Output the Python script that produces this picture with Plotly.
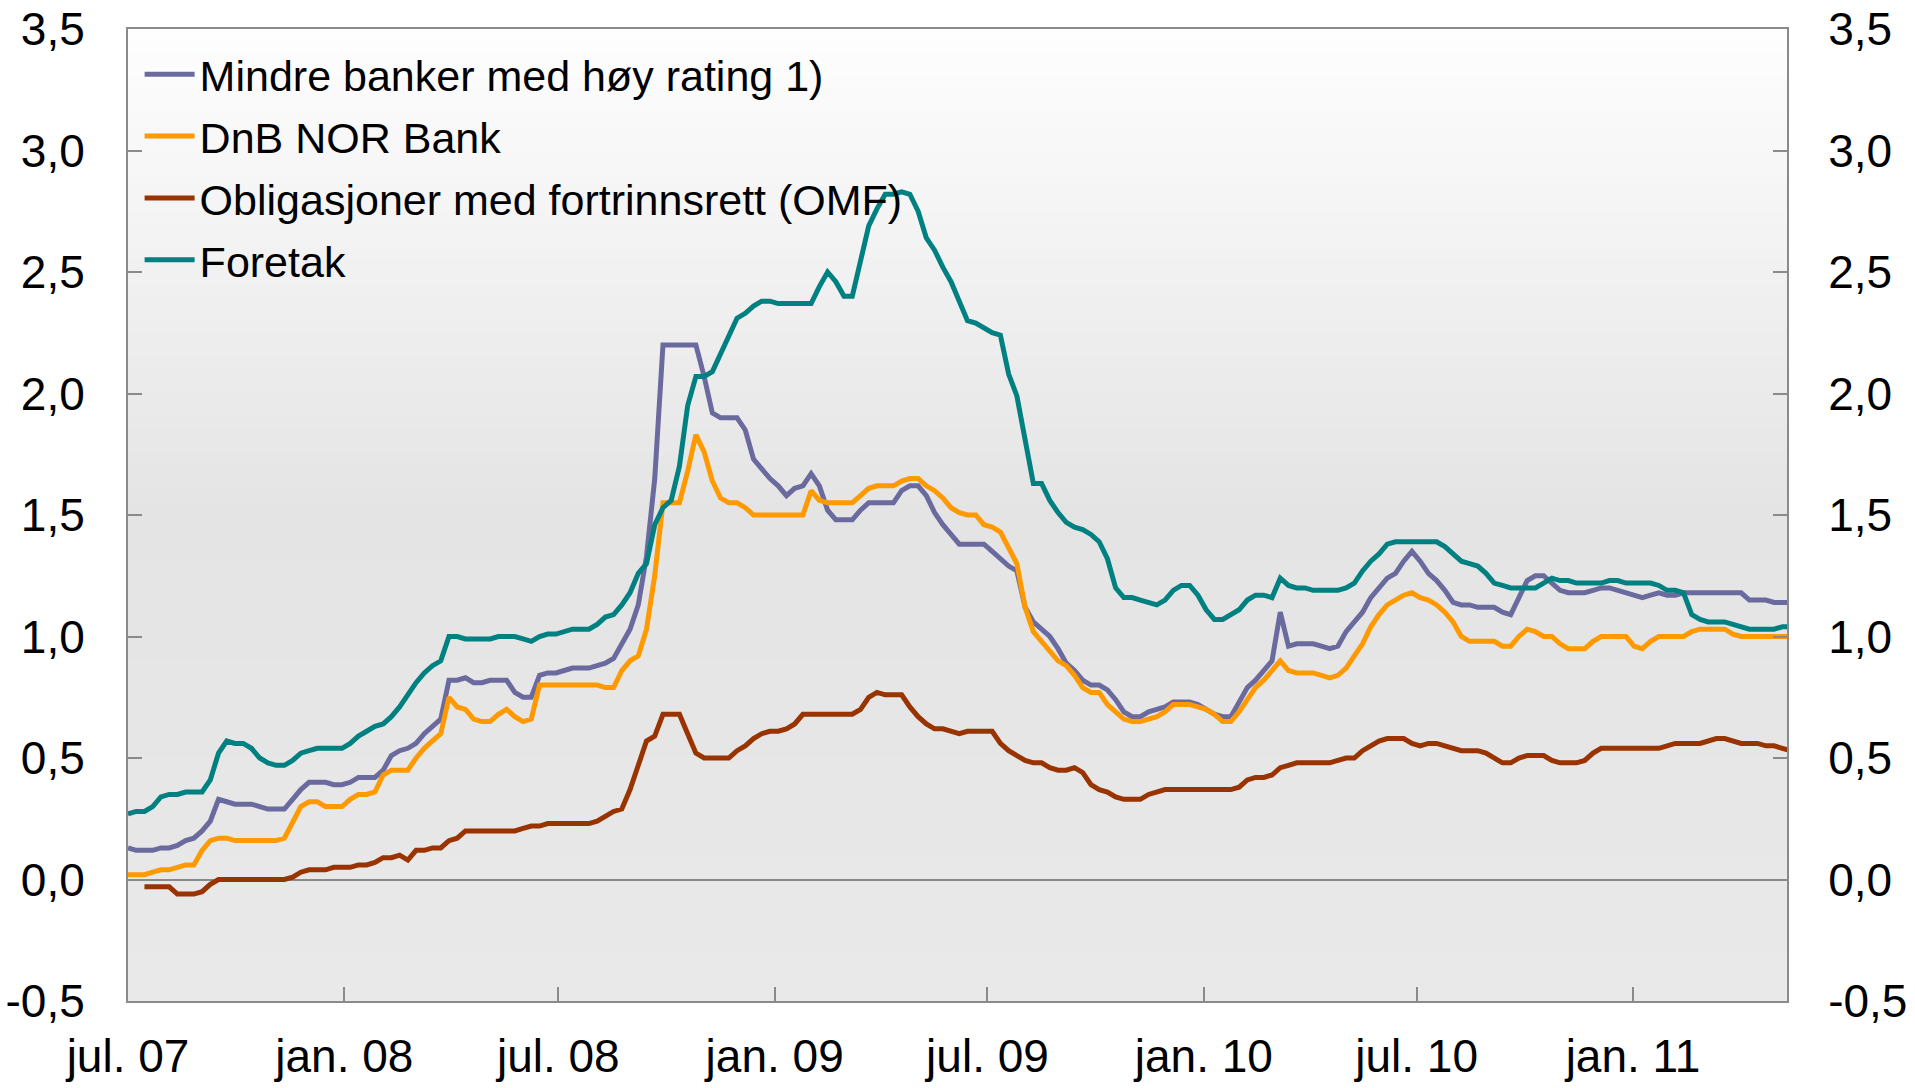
import plotly.graph_objects as go
import pandas as pd

# Weekly observation dates
dates = pd.date_range("2007-07-01", periods=203, freq="7D")

names = [
    "Mindre banker med høy rating 1)",
    "DnB NOR Bank",
    "Obligasjoner med fortrinnsrett (OMF)",
    "Foretak",
]

mindre_banker = [
    0.13, 0.12, 0.12, 0.12, 0.13, 0.13, 0.14, 0.16, 0.17, 0.20,
    0.24, 0.33, 0.32, 0.31, 0.31, 0.31, 0.30, 0.29, 0.29, 0.29,
    0.33, 0.37, 0.40, 0.40, 0.40, 0.39, 0.39, 0.40, 0.42, 0.42,
    0.42, 0.45, 0.51, 0.53, 0.54, 0.56, 0.60, 0.63, 0.66, 0.82,
    0.82, 0.83, 0.81, 0.81, 0.82, 0.82, 0.82, 0.77, 0.75, 0.75,
    0.84, 0.85, 0.85, 0.86, 0.87, 0.87, 0.87, 0.88, 0.89, 0.91,
    0.97, 1.03, 1.13, 1.33, 1.65, 2.20, 2.20, 2.20, 2.20, 2.20,
    2.07, 1.92, 1.90, 1.90, 1.90, 1.85, 1.73, 1.69, 1.65, 1.62,
    1.58, 1.61, 1.62, 1.67, 1.62, 1.52, 1.48, 1.48, 1.48, 1.52,
    1.55, 1.55, 1.55, 1.55, 1.60, 1.62, 1.62, 1.58, 1.51, 1.46,
    1.42, 1.38, 1.38, 1.38, 1.38, 1.35, 1.32, 1.29, 1.27, 1.12,
    1.06, 1.03, 1.00, 0.95, 0.89, 0.86, 0.82, 0.80, 0.80, 0.78,
    0.74, 0.69, 0.67, 0.67, 0.69, 0.70, 0.71, 0.73, 0.73, 0.73,
    0.72, 0.70, 0.68, 0.67, 0.67, 0.73, 0.79, 0.82, 0.86, 0.90,
    1.10, 0.96, 0.97, 0.97, 0.97, 0.96, 0.95, 0.96, 1.02, 1.06,
    1.10, 1.16, 1.20, 1.24, 1.26, 1.31, 1.35, 1.31, 1.26, 1.23,
    1.19, 1.14, 1.13, 1.13, 1.12, 1.12, 1.12, 1.10, 1.09, 1.16,
    1.23, 1.25, 1.25, 1.22, 1.19, 1.18, 1.18, 1.18, 1.19, 1.20,
    1.20, 1.19, 1.18, 1.17, 1.16, 1.17, 1.18, 1.17, 1.17, 1.18,
    1.18, 1.18, 1.18, 1.18, 1.18, 1.18, 1.18, 1.15, 1.15, 1.15,
    1.14, 1.14, 1.14,
]

dnb_nor = [
    0.02, 0.02, 0.02, 0.03, 0.04, 0.04, 0.05, 0.06, 0.06, 0.12,
    0.16, 0.17, 0.17, 0.16, 0.16, 0.16, 0.16, 0.16, 0.16, 0.17,
    0.24, 0.30, 0.32, 0.32, 0.30, 0.30, 0.30, 0.33, 0.35, 0.35,
    0.36, 0.43, 0.45, 0.45, 0.45, 0.50, 0.54, 0.57, 0.60, 0.75,
    0.71, 0.70, 0.66, 0.65, 0.65, 0.68, 0.70, 0.67, 0.65, 0.66,
    0.80, 0.80, 0.80, 0.80, 0.80, 0.80, 0.80, 0.80, 0.79, 0.79,
    0.86, 0.90, 0.92, 1.03, 1.25, 1.55, 1.55, 1.55, 1.68, 1.83,
    1.76, 1.64, 1.57, 1.55, 1.55, 1.53, 1.50, 1.50, 1.50, 1.50,
    1.50, 1.50, 1.50, 1.60, 1.56, 1.55, 1.55, 1.55, 1.55, 1.58,
    1.61, 1.62, 1.62, 1.62, 1.64, 1.65, 1.65, 1.62, 1.60, 1.57,
    1.53, 1.51, 1.50, 1.50, 1.46, 1.45, 1.43, 1.37, 1.30, 1.12,
    1.02, 0.98, 0.94, 0.90, 0.88, 0.84, 0.79, 0.77, 0.77, 0.72,
    0.69, 0.66, 0.65, 0.65, 0.66, 0.67, 0.69, 0.72, 0.72, 0.72,
    0.71, 0.70, 0.68, 0.65, 0.65, 0.69, 0.74, 0.79, 0.82, 0.86,
    0.90, 0.86, 0.85, 0.85, 0.85, 0.84, 0.83, 0.84, 0.87, 0.92,
    0.97, 1.04, 1.09, 1.13, 1.15, 1.17, 1.18, 1.16, 1.15, 1.13,
    1.10, 1.06, 1.00, 0.98, 0.98, 0.98, 0.98, 0.96, 0.96, 1.00,
    1.03, 1.02, 1.00, 1.00, 0.97, 0.95, 0.95, 0.95, 0.98, 1.00,
    1.00, 1.00, 1.00, 0.96, 0.95, 0.98, 1.00, 1.00, 1.00, 1.00,
    1.02, 1.03, 1.03, 1.03, 1.03, 1.01, 1.00, 1.00, 1.00, 1.00,
    1.00, 1.00, 1.00,
]

omf = [
    None, None, -0.03, -0.03, -0.03, -0.03, -0.06, -0.06, -0.06, -0.05,
    -0.02, 0.00, 0.00, 0.00, 0.00, 0.00, 0.00, 0.00, 0.00, 0.00,
    0.01, 0.03, 0.04, 0.04, 0.04, 0.05, 0.05, 0.05, 0.06, 0.06,
    0.07, 0.09, 0.09, 0.10, 0.08, 0.12, 0.12, 0.13, 0.13, 0.16,
    0.17, 0.20, 0.20, 0.20, 0.20, 0.20, 0.20, 0.20, 0.21, 0.22,
    0.22, 0.23, 0.23, 0.23, 0.23, 0.23, 0.23, 0.24, 0.26, 0.28,
    0.29, 0.37, 0.47, 0.57, 0.59, 0.68, 0.68, 0.68, 0.60, 0.52,
    0.50, 0.50, 0.50, 0.50, 0.53, 0.55, 0.58, 0.60, 0.61, 0.61,
    0.62, 0.64, 0.68, 0.68, 0.68, 0.68, 0.68, 0.68, 0.68, 0.70,
    0.75, 0.77, 0.76, 0.76, 0.76, 0.71, 0.67, 0.64, 0.62, 0.62,
    0.61, 0.60, 0.61, 0.61, 0.61, 0.61, 0.56, 0.53, 0.51, 0.49,
    0.48, 0.48, 0.46, 0.45, 0.45, 0.46, 0.44, 0.39, 0.37, 0.36,
    0.34, 0.33, 0.33, 0.33, 0.35, 0.36, 0.37, 0.37, 0.37, 0.37,
    0.37, 0.37, 0.37, 0.37, 0.37, 0.38, 0.41, 0.42, 0.42, 0.43,
    0.46, 0.47, 0.48, 0.48, 0.48, 0.48, 0.48, 0.49, 0.50, 0.50,
    0.53, 0.55, 0.57, 0.58, 0.58, 0.58, 0.56, 0.55, 0.56, 0.56,
    0.55, 0.54, 0.53, 0.53, 0.53, 0.52, 0.50, 0.48, 0.48, 0.50,
    0.51, 0.51, 0.51, 0.49, 0.48, 0.48, 0.48, 0.49, 0.52, 0.54,
    0.54, 0.54, 0.54, 0.54, 0.54, 0.54, 0.54, 0.55, 0.56, 0.56,
    0.56, 0.56, 0.57, 0.58, 0.58, 0.57, 0.56, 0.56, 0.56, 0.55,
    0.55, 0.54, 0.53,
]

foretak = [
    0.27, 0.28, 0.28, 0.30, 0.34, 0.35, 0.35, 0.36, 0.36, 0.36,
    0.41, 0.52, 0.57, 0.56, 0.56, 0.54, 0.50, 0.48, 0.47, 0.47,
    0.49, 0.52, 0.53, 0.54, 0.54, 0.54, 0.54, 0.56, 0.59, 0.61,
    0.63, 0.64, 0.67, 0.71, 0.76, 0.81, 0.85, 0.88, 0.90, 1.00,
    1.00, 0.99, 0.99, 0.99, 0.99, 1.00, 1.00, 1.00, 0.99, 0.98,
    1.00, 1.01, 1.01, 1.02, 1.03, 1.03, 1.03, 1.05, 1.08, 1.09,
    1.13, 1.18, 1.26, 1.30, 1.46, 1.53, 1.56, 1.70, 1.95, 2.07,
    2.07, 2.09, 2.16, 2.24, 2.31, 2.33, 2.36, 2.38, 2.38, 2.37,
    2.37, 2.37, 2.37, 2.37, 2.44, 2.50, 2.46, 2.40, 2.40, 2.55,
    2.69, 2.76, 2.82, 2.82, 2.83, 2.82, 2.75, 2.64, 2.59, 2.52,
    2.46, 2.38, 2.30, 2.29, 2.27, 2.25, 2.24, 2.08, 1.99, 1.80,
    1.63, 1.63, 1.56, 1.51, 1.47, 1.45, 1.44, 1.42, 1.39, 1.32,
    1.20, 1.16, 1.16, 1.15, 1.14, 1.13, 1.15, 1.19, 1.21, 1.21,
    1.17, 1.11, 1.07, 1.07, 1.09, 1.11, 1.15, 1.17, 1.17, 1.16,
    1.24, 1.21, 1.20, 1.20, 1.19, 1.19, 1.19, 1.19, 1.20, 1.22,
    1.27, 1.31, 1.34, 1.38, 1.39, 1.39, 1.39, 1.39, 1.39, 1.39,
    1.37, 1.34, 1.31, 1.30, 1.29, 1.26, 1.22, 1.21, 1.20, 1.20,
    1.20, 1.20, 1.22, 1.24, 1.23, 1.23, 1.22, 1.22, 1.22, 1.22,
    1.23, 1.23, 1.22, 1.22, 1.22, 1.22, 1.21, 1.19, 1.19, 1.18,
    1.09, 1.07, 1.06, 1.06, 1.06, 1.05, 1.04, 1.03, 1.03, 1.03,
    1.03, 1.04, 1.04,
]

colors = ["#6A6A9F", "#FF9900", "#993300", "#008080"]

x_tick_dates = ["2007-07-01", "2008-01-01", "2008-07-01", "2009-01-01",
                "2009-07-01", "2010-01-01", "2010-07-01", "2011-01-01"]
x_tick_labels = ["jul. 07", "jan. 08", "jul. 08", "jan. 09",
                 "jul. 09", "jan. 10", "jul. 10", "jan. 11"]
y_tick_vals = [-0.5, 0.0, 0.5, 1.0, 1.5, 2.0, 2.5, 3.0, 3.5]
y_tick_labels = ["-0,5", "0,0", "0,5", "1,0", "1,5", "2,0", "2,5", "3,0", "3,5"]

FONT = "Liberation Sans, Arial, sans-serif"
AX = "#8A8A8A"

fig = go.Figure()
for i, (name, vals, col) in enumerate(zip(names, [mindre_banker, dnb_nor, omf, foretak], colors)):
    fig.add_trace(go.Scatter(x=dates, y=vals, name=name, mode="lines",
                             legendgroup="g%d" % i,
                             line=dict(color=col, width=5)))
fig.add_trace(go.Scatter(x=[], y=[], yaxis="y2", showlegend=False, hoverinfo="skip"))

# vertical gradient background of the plot area
shapes = []
N = 80
def mix(c1, c2, t):
    return tuple(round(a + (b - a) * t) for a, b in zip(c1, c2))
top_c, mid_c, bot_c = (254, 254, 254), (228, 228, 228), (233, 233, 233)
for i in range(N):
    t = (i + 0.5) / N  # from top
    if t < 0.5:
        c = mix(top_c, mid_c, t / 0.5)
    else:
        c = mix(mid_c, bot_c, (t - 0.5) / 0.5)
    y1 = 1 - i / N
    y0 = 1 - (i + 1) / N
    shapes.append(dict(type="rect", xref="paper", yref="paper", x0=0, x1=1,
                       y0=y0, y1=y1 + 0.001, layer="below", line=dict(width=0),
                       fillcolor="rgb(%d,%d,%d)" % c))

axis_common = dict(ticks="inside", ticklen=14, tickwidth=2, tickcolor=AX,
                   showline=True, linecolor=AX, linewidth=2, showgrid=False,
                   automargin=False,
                   tickfont=dict(family=FONT, size=46, color="black"))

fig.update_layout(
    width=1915, height=1088,
    margin=dict(l=128, r=128, t=29, b=87),
    paper_bgcolor="white", plot_bgcolor="rgba(0,0,0,0)",
    shapes=shapes,
    showlegend=True,
    legend=dict(x=0.007, y=0.989, xanchor="left", yanchor="top",
                tracegroupgap=3,
                bgcolor="rgba(0,0,0,0)", font=dict(family=FONT, size=43, color="black"),
                itemwidth=50),
    xaxis=dict(type="date", range=["2007-07-01", "2011-05-12"],
               tickvals=x_tick_dates, ticktext=x_tick_labels, mirror=True,
               zeroline=False, ticklabelstandoff=14, **axis_common),
    yaxis=dict(range=[-0.5, 3.5], tickvals=y_tick_vals, ticktext=y_tick_labels,
               mirror=True, zeroline=True, zerolinecolor=AX, zerolinewidth=2,
               ticklabelstandoff=32, **axis_common),
    yaxis2=dict(range=[-0.5, 3.5], tickvals=y_tick_vals, ticktext=y_tick_labels,
                overlaying="y", side="right", zeroline=False,
                ticklabelstandoff=30, **axis_common),
)

fig.write_html("out.html", config={"displayModeBar": False},
               post_script="document.body.style.margin='0';")
